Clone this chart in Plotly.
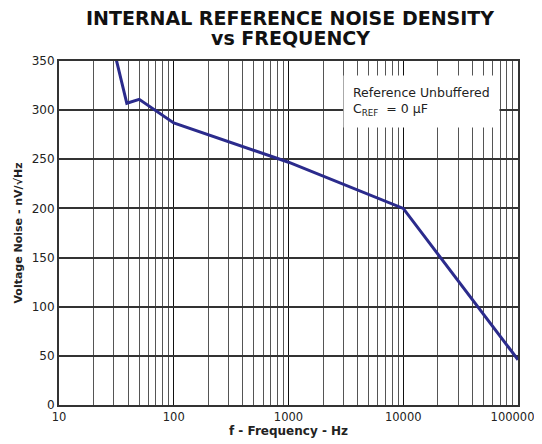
import plotly.graph_objects as go

freq = [30, 39, 50, 100, 1000, 10000, 100000]
noise = [362, 307, 311, 287, 247, 200, 46]

x_ticks = [10, 100, 1000, 10000, 100000]
x_labels = ["10", "100", "1000", "10000", "100000&nbsp;&nbsp;&nbsp;"]
y_ticks = [0, 50, 100, 150, 200, 250, 300, 350]

FONT = "DejaVu Sans, Verdana, sans-serif"

fig = go.Figure()
fig.add_trace(go.Scatter(x=freq, y=noise, mode="lines",
                         line=dict(color="#2b2b8c", width=3), showlegend=False))

# page has an 8px body margin, so the figure is 8px smaller and offset
fig.update_layout(
    width=534, height=436,
    margin=dict(l=51, r=24, t=53, b=39, autoexpand=False),
    paper_bgcolor="white", plot_bgcolor="white",
    font=dict(family=FONT, color="#222", size=12),
)
fig.update_xaxes(
    type="log", range=[1, 5], tickvals=x_ticks, ticktext=x_labels,
    showgrid=True, gridcolor="#111", gridwidth=1,
    minor=dict(dtick="D1", showgrid=True, gridcolor="#555", gridwidth=1, ticks=""),
    showline=True, linecolor="#333", linewidth=2, mirror=True,
    ticks="", tickfont=dict(size=11.5), ticklabeloverflow="allow",
    title=dict(text="<b>f - Frequency - Hz</b>", font=dict(size=12), standoff=1),
    zeroline=False, automargin=False,
)
fig.update_yaxes(
    range=[0, 350], tickvals=y_ticks,
    showgrid=True, gridcolor="#333", gridwidth=1.5,
    showline=True, linecolor="#333", linewidth=2, mirror=True,
    ticks="", tickfont=dict(size=12),
    title=dict(text="<b>Voltage Noise - nV/√Hz</b>", font=dict(size=11), standoff=7),
    zeroline=False, automargin=False,
)
fig.add_annotation(
    xref="paper", yref="paper", x=0.504, y=1.0 + (61 - 18) / 344, yanchor="middle",
    text="<b>INTERNAL REFERENCE NOISE DENSITY</b>", showarrow=False,
    font=dict(size=19, color="#111"),
)
fig.add_annotation(
    xref="paper", yref="paper", x=0.504, y=1.0 + (61 - 38) / 344, yanchor="middle",
    text="<b>vs FREQUENCY</b>", showarrow=False,
    font=dict(size=19, color="#111"),
)
fig.add_annotation(
    xref="paper", yref="paper", x=0.619, y=0.959, xanchor="left", yanchor="top",
    text="Reference Unbuffered<br>C<sub>REF</sub>  = 0 µF", align="left",
    showarrow=False, bgcolor="white", borderpad=9,
    font=dict(size=12.5, color="#222"),
)
fig.write_html("out.html")
